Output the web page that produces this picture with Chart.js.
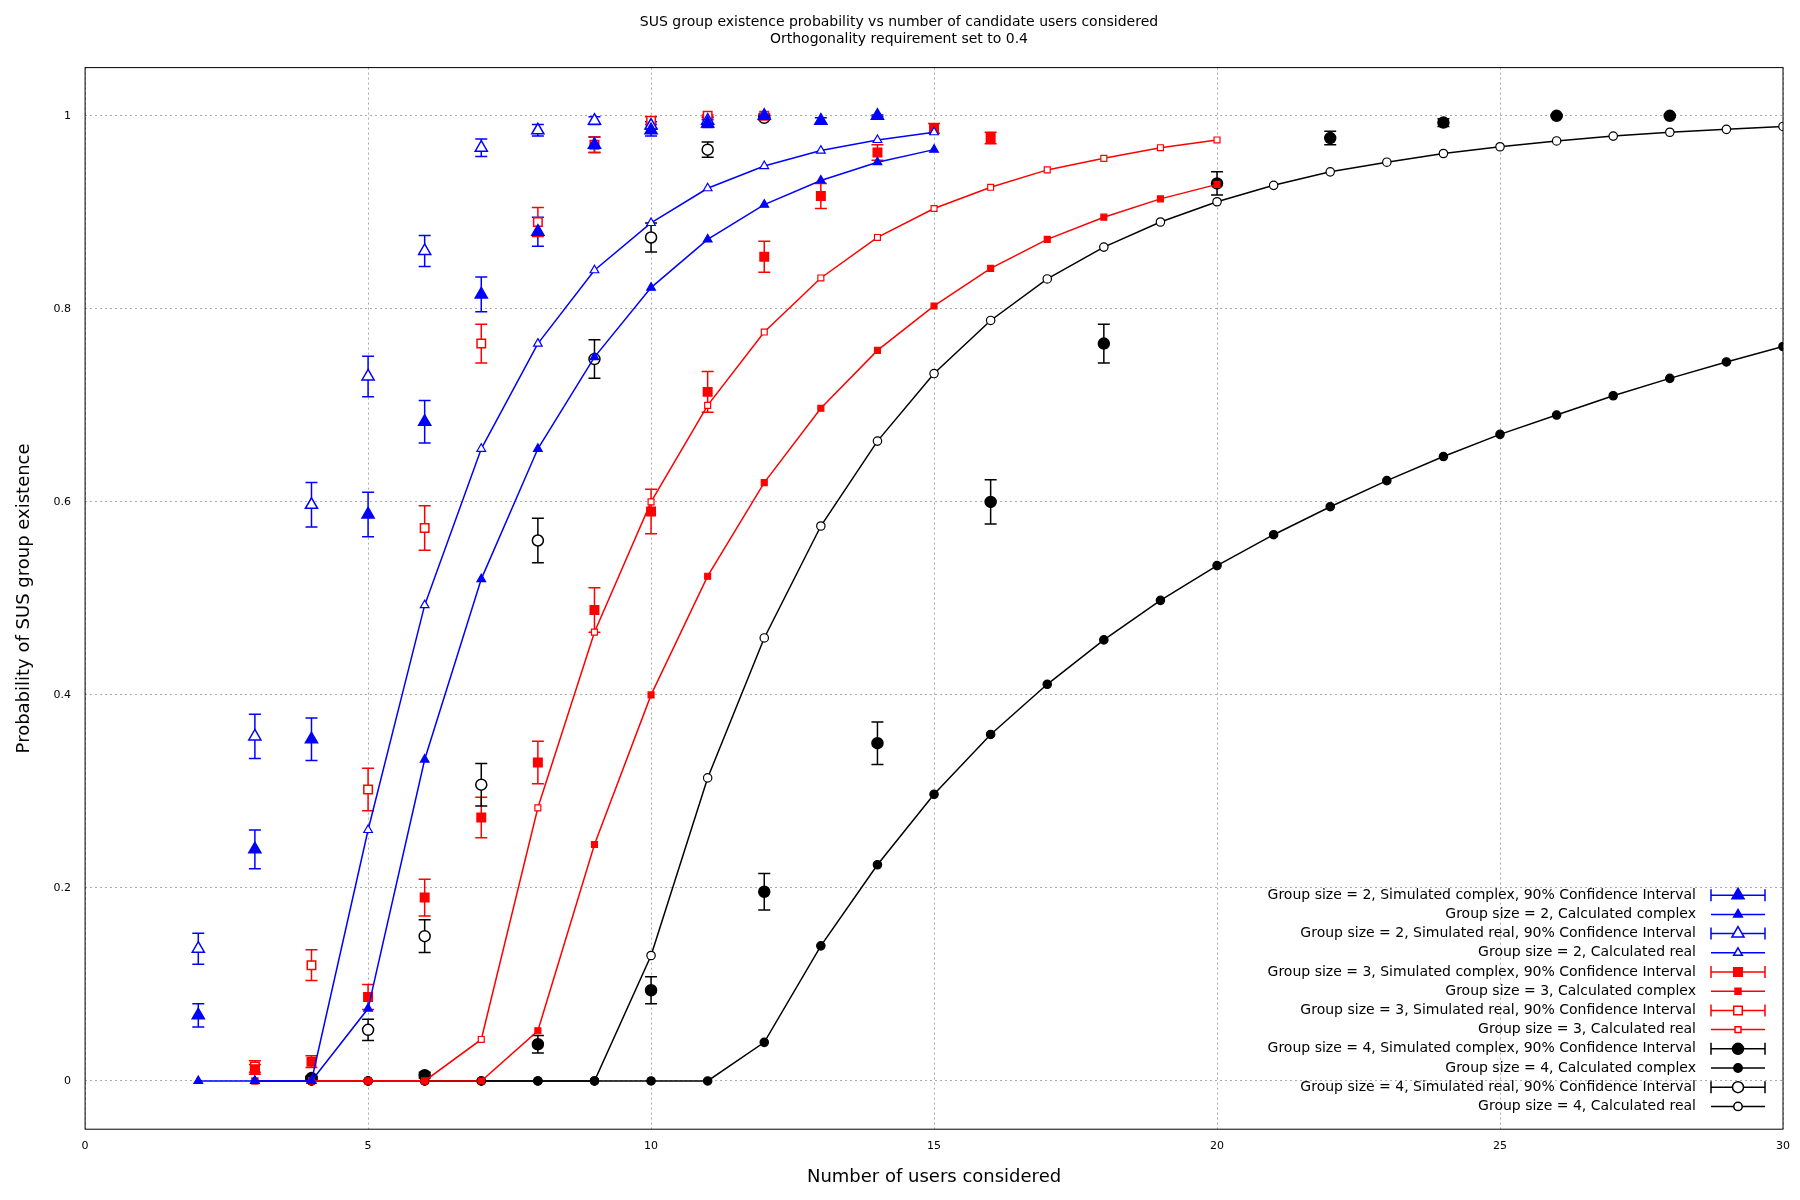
<!DOCTYPE html>
<html>
<head>
<meta charset="utf-8">
<script src="https://cdn.jsdelivr.net/npm/chart.js@4"></script>
<style>
body { margin: 0; background: #fff; }
#wrap { width: 1800px; height: 1200px; }
</style>
</head>
<body>
<div id="wrap"><canvas id="c"></canvas></div>
<script>
// series data (x = users considered, y = probability)
const g2SimCx = [2,3,4,5,6,7,8,9,10,11,12,13,14];
const g2SimCy = [0.068,0.24,0.354,0.587,0.683,0.815,0.88,0.97,0.985,0.992,1.0,0.995,1.0];
const g2SimCe = [0.012,0.02,0.022,0.023,0.022,0.018,0.015,0.008,0.006,0.004,0.002,0.003,0.001];
const g2CalCx = [2,3,4,5,6,7,8,9,10,11,12,13,14,15];
const g2CalCy = [0,0,0,0.075,0.333,0.52,0.655,0.75,0.822,0.872,0.908,0.933,0.952,0.965];
const g2SimRx = [2,3,4,5,6,7,8,9,10,11];
const g2SimRy = [0.137,0.357,0.597,0.73,0.86,0.967,0.985,0.995,0.99,0.995];
const g2SimRe = [0.016,0.023,0.023,0.021,0.016,0.009,0.006,0.004,0.004,0.003];
const g2CalRx = [3,4,5,6,7,8,9,10,11,12,13,14,15];
const g2CalRy = [0,0,0.26,0.493,0.655,0.764,0.84,0.889,0.925,0.948,0.964,0.975,0.983];

const g3SimCx = [3,4,5,6,7,8,9,10,11,12,13,14,15,16];
const g3SimCy = [0.012,0.02,0.087,0.19,0.273,0.33,0.488,0.59,0.714,0.854,0.917,0.962,0.987,0.977];
const g3SimCe = [0.005,0.006,0.013,0.019,0.021,0.022,0.023,0.023,0.021,0.016,0.013,0.008,0.005,0.006];
const g3CalCx = [3,4,5,6,7,8,9,10,11,12,13,14,15,16,17,18,19,20];
const g3CalCy = [0,0,0,0,0,0.052,0.245,0.4,0.523,0.62,0.697,0.757,0.803,0.842,0.872,0.895,0.914,0.929];
const g3SimRx = [3,4,5,6,7,8,9,10,11,12];
const g3SimRy = [0.015,0.12,0.302,0.573,0.764,0.89,0.97,0.995,1.0,1.0];
const g3SimRe = [0.006,0.016,0.022,0.023,0.02,0.015,0.008,0.004,0.001,0.001];
const g3CalRx = [3,4,5,6,7,8,9,10,11,12,13,14,15,16,17,18,19,20];
const g3CalRy = [0,0,0,0,0.043,0.283,0.465,0.6,0.7,0.776,0.832,0.874,0.904,0.926,0.944,0.956,0.967,0.975];

const g4SimCx = [4,6,8,10,12,14,16,18,20,22,24,26,28];
const g4SimCy = [0.002,0.006,0.038,0.094,0.196,0.35,0.6,0.764,0.93,0.977,0.993,1.0,1.0];
const g4SimCe = [0.002,0.003,0.009,0.014,0.019,0.022,0.023,0.02,0.012,0.007,0.004,0.001,0.001];
const g4CalCx = [4,5,6,7,8,9,10,11,12,13,14,15,16,17,18,19,20,21,22,23,24,25,26,27,28,29,30];
const g4CalCy = [0,0,0,0,0,0,0,0,0.04,0.14,0.224,0.297,0.359,0.411,0.457,0.498,0.534,0.566,0.595,0.622,0.647,0.67,0.69,0.71,0.728,0.745,0.761];
const g4SimRx = [4,5,6,7,8,9,10,11,12];
const g4SimRy = [0.003,0.053,0.15,0.307,0.56,0.748,0.874,0.965,0.998];
const g4SimRe = [0.002,0.011,0.017,0.022,0.023,0.02,0.015,0.008,0.002];
const g4CalRx = [4,5,6,7,8,9,10,11,12,13,14,15,16,17,18,19,20,21,22,23,24,25,26,27,28,29,30];
const g4CalRy = [0,0,0,0,0,0,0.13,0.314,0.459,0.575,0.663,0.733,0.788,0.831,0.864,0.89,0.911,0.928,0.942,0.952,0.961,0.968,0.974,0.979,0.983,0.986,0.989];

const xTicks = [0,5,10,15,20,25,30];
const yTicks = [0,0.2,0.4,0.6,0.8,1];

function pts(xs, ys) { return xs.map((x, i) => ({ x: x, y: ys[i] })); }

function sim(label, xs, ys, errs, color, shape, filled) {
  return {
    label: label, data: pts(xs, ys), err: errs, showLine: false,
    borderColor: color, backgroundColor: filled ? color : '#fff',
    pointStyle: shape, pointRadius: shape === 'circle' ? 5.5 : (shape === 'rect' ? 6 : 7), pointBorderWidth: 1.5
  };
}
function calc(label, xs, ys, color, shape, filled) {
  return {
    label: label, data: pts(xs, ys), showLine: true, borderWidth: 1.5,
    borderColor: color, backgroundColor: filled ? color : '#fff',
    pointStyle: shape, pointRadius: shape === 'triangle' ? 5 : 4.2, pointBorderWidth: 1.2
  };
}

const datasets = [
  sim('Group size = 2, Simulated complex, 90% Confidence Interval', g2SimCx, g2SimCy, g2SimCe, '#0000ff', 'triangle', true),
  calc('Group size = 2, Calculated complex', g2CalCx, g2CalCy, '#0000ff', 'triangle', true),
  sim('Group size = 2, Simulated real, 90% Confidence Interval', g2SimRx, g2SimRy, g2SimRe, '#0000ff', 'triangle', false),
  calc('Group size = 2, Calculated real', g2CalRx, g2CalRy, '#0000ff', 'triangle', false),
  sim('Group size = 3, Simulated complex, 90% Confidence Interval', g3SimCx, g3SimCy, g3SimCe, '#ff0000', 'rect', true),
  calc('Group size = 3, Calculated complex', g3CalCx, g3CalCy, '#ff0000', 'rect', true),
  sim('Group size = 3, Simulated real, 90% Confidence Interval', g3SimRx, g3SimRy, g3SimRe, '#ff0000', 'rect', false),
  calc('Group size = 3, Calculated real', g3CalRx, g3CalRy, '#ff0000', 'rect', false),
  sim('Group size = 4, Simulated complex, 90% Confidence Interval', g4SimCx, g4SimCy, g4SimCe, '#000000', 'circle', true),
  calc('Group size = 4, Calculated complex', g4CalCx, g4CalCy, '#000000', 'circle', true),
  sim('Group size = 4, Simulated real, 90% Confidence Interval', g4SimRx, g4SimRy, g4SimRe, '#000000', 'circle', false),
  calc('Group size = 4, Calculated real', g4CalRx, g4CalRy, '#000000', 'circle', false)
];

// error bars, frame and gnuplot-like legend
const extras = {
  id: 'extras',
  beforeDatasetsDraw(chart) {
    const ctx = chart.ctx, xs = chart.scales.x, ys = chart.scales.y;
    chart.data.datasets.forEach(ds => {
      if (!ds.err) return;
      ctx.save();
      ctx.strokeStyle = ds.borderColor; ctx.lineWidth = 1.5;
      ds.data.forEach((p, i) => {
        const px = xs.getPixelForValue(p.x);
        const y1 = ys.getPixelForValue(p.y - ds.err[i]);
        const y2 = ys.getPixelForValue(Math.min(p.y + ds.err[i], 1.04));
        ctx.beginPath();
        ctx.moveTo(px, y1); ctx.lineTo(px, y2);
        ctx.moveTo(px - 6, y1); ctx.lineTo(px + 6, y1);
        ctx.moveTo(px - 6, y2); ctx.lineTo(px + 6, y2);
        ctx.stroke();
      });
      ctx.restore();
    });
  },
  afterDraw(chart) {
    const ctx = chart.ctx, a = chart.chartArea;
    ctx.save();
    ctx.strokeStyle = '#000'; ctx.lineWidth = 1;
    ctx.strokeRect(a.left, a.top, a.right - a.left, a.bottom - a.top);
    ctx.font = '14px "DejaVu Sans", sans-serif';
    ctx.textAlign = 'right'; ctx.textBaseline = 'middle';
    const textX = a.right - 87, lx1 = a.right - 72, lx2 = a.right - 18;
    let y = a.bottom - 234;
    chart.data.datasets.forEach(ds => {
      ctx.fillStyle = '#000';
      ctx.fillText(ds.label, textX, y);
      ctx.strokeStyle = ds.borderColor; ctx.lineWidth = 1.5;
      ctx.beginPath(); ctx.moveTo(lx1, y); ctx.lineTo(lx2, y); ctx.stroke();
      if (ds.err) {
        ctx.beginPath();
        ctx.moveTo(lx1, y - 6); ctx.lineTo(lx1, y + 6);
        ctx.moveTo(lx2, y - 6); ctx.lineTo(lx2, y + 6);
        ctx.stroke();
      }
      ctx.fillStyle = ds.backgroundColor;
      ctx.strokeStyle = ds.borderColor;
      Chart.helpers.drawPoint(ctx, {
        pointStyle: ds.pointStyle, radius: ds.pointRadius, borderWidth: ds.pointBorderWidth
      }, (lx1 + lx2) / 2, y);
      y += 19.2;
    });
    ctx.restore();
  }
};

new Chart(document.getElementById('c'), {
  type: 'scatter',
  data: { datasets: datasets },
  plugins: [extras],
  options: {
    responsive: true,
    maintainAspectRatio: false,
    animation: false,
    layout: { padding: { left: 10, right: 12, top: 4, bottom: 8 } },
    plugins: {
      legend: { display: false },
      tooltip: { enabled: false },
      title: {
        display: true,
        text: ['SUS group existence probability vs number of candidate users considered', 'Orthogonality requirement set to 0.4'],
        color: '#000', font: { family: 'DejaVu Sans', size: 14, weight: 'normal' },
        padding: { top: 10, bottom: 20 }
      }
    },
    scales: {
      x: {
        type: 'linear', min: 0, max: 30,
        afterBuildTicks: s => { s.ticks = xTicks.map(v => ({ value: v })); },
        grid: { color: '#aaa', drawTicks: false },
        border: { display: false, dash: [2, 3] },
        ticks: { color: '#000', font: { family: 'DejaVu Sans', size: 11 }, padding: 10 },
        title: { display: true, text: 'Number of users considered', color: '#000', font: { family: 'DejaVu Sans', size: 18 } }
      },
      y: {
        type: 'linear', min: -0.05, max: 1.05,
        afterBuildTicks: s => { s.ticks = yTicks.map(v => ({ value: v })); },
        grid: { color: '#aaa', drawTicks: false },
        border: { display: false, dash: [2, 3] },
        ticks: { color: '#000', font: { family: 'DejaVu Sans', size: 11 }, padding: 14, callback: v => String(Math.round(v * 10) / 10) },
        title: { display: true, text: 'Probability of SUS group existence', color: '#000', font: { family: 'DejaVu Sans', size: 18 } }
      }
    }
  }
});
</script>
</body>
</html>
